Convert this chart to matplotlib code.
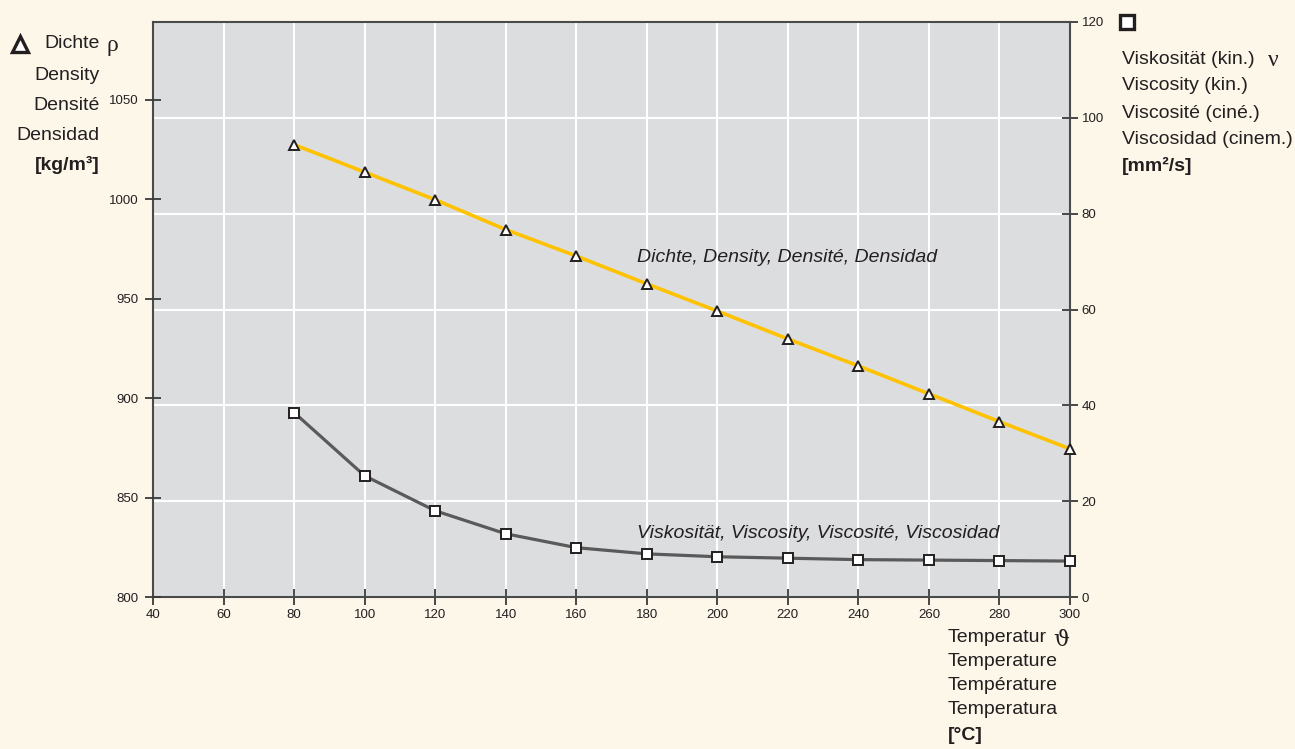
import matplotlib
matplotlib.use("Agg")
import matplotlib.pyplot as plt

plt.rcParams['font.family'] = ['Liberation Sans', 'DejaVu Sans']

# temperature [°C]
temps = [80, 100, 120, 140, 160, 180, 200, 220, 240, 260, 280, 300]
# density [kg/m3]
density = [1027.5, 1013.7, 999.8, 984.8, 971.5, 957.5, 943.8, 929.8, 916.2, 902.2, 888.2, 874.5]
# kinematic viscosity [mm2/s]
viscosity = [38.5, 25.3, 18.0, 13.2, 10.3, 9.0, 8.4, 8.1, 7.8, 7.7, 7.6, 7.5]

x_ticks = list(range(40, 301, 20))
dens_ticks = [800, 850, 900, 950, 1000, 1050]
visc_ticks = [0, 20, 40, 60, 80, 100, 120]

bg = '#fdf7ea'
plot_bg = '#dcdddf'
gold = '#ffc200'
grey = '#5a5a5a'
dark = '#231f20'

W, H = 1295, 749
fig = plt.figure(figsize=(W / 100, H / 100), dpi=100, facecolor=bg)

def px(x, y):
    return x / W, 1 - y / H

l, b = px(153, 597)
r, t = px(1070, 22)
ax = fig.add_axes([l, b, r - l, t - b])
ax.set_facecolor(plot_bg)

# viscosity on the base axes (ticks on the right), grid lives here
ax.plot(temps, viscosity, color=grey, lw=2.3, marker='s', ms=7,
        mfc='white', mec=dark, mew=1.4, clip_on=False, zorder=3)
ax.set_xlim(40, 300)
ax.set_ylim(0, 120)
ax.set_xticks(x_ticks)
ax.set_yticks(visc_ticks)
ax.set_axisbelow(True)
ax.grid(True, color='white', lw=1.5)
for s in ax.spines.values():
    s.set_color('#4a4a4a')
    s.set_linewidth(1.5)

# density on the twin (ticks on the left)
ax2 = ax.twinx()
ax2.plot(temps, density, color=gold, lw=2.6, marker='^', ms=7,
         mfc='white', mec=dark, mew=1.4, clip_on=False, zorder=3)
ax2.set_ylim(800, 1089.2)
ax2.set_yticks(dens_ticks)
ax2.yaxis.tick_left()
ax.yaxis.tick_right()
ax.tick_params(axis='both', direction='inout', length=11, width=1.3,
               color='#3a3a3a', labelsize=9.5, labelcolor=dark, pad=3)
ax2.tick_params(axis='y', direction='inout', length=11, width=1.3,
                color='#3a3a3a', labelsize=9.5, labelcolor=dark, pad=5)
for s in ax2.spines.values():
    s.set_visible(False)

ax2.text(177.2, 968.5, 'Dichte, Density, Densité, Densidad', style='italic',
         fontsize=14, color=dark, va='baseline')
ax.text(177.2, 12.3, 'Viskosität, Viscosity, Viscosité, Viscosidad', style='italic',
        fontsize=14, color=dark, va='baseline')

serif = ['Liberation Serif', 'DejaVu Serif']

# left label block
fs = 14
mx, my = px(20, 44)
fig.add_artist(plt.Line2D([mx], [my], marker='^', ms=11, mfc='white', mec=dark,
                          mew=2.4, transform=fig.transFigure))
for txt, y, w in [('Dichte', 43, 'normal'), ('Density', 75, 'normal'),
                  ('Densité', 105, 'normal'), ('Densidad', 135, 'normal'),
                  ('[kg/m³]', 165, 'bold')]:
    fig.text(*px(100, y), txt, ha='right', va='center', fontsize=fs,
             color=dark, fontweight=w)
fig.text(*px(107, 45), 'ρ', ha='left', va='center', fontsize=fs + 3,
         color=dark, family=serif)

# right label block
mx, my = px(1127, 22)
fig.add_artist(plt.Line2D([mx], [my], marker='s', ms=9.5, mfc='white', mec=dark,
                          mew=2.4, transform=fig.transFigure))
for txt, y, w in [('Viskosität (kin.)', 60, 'normal'), ('Viscosity (kin.)', 86, 'normal'),
                  ('Viscosité (ciné.)', 113, 'normal'), ('Viscosidad (cinem.)', 140, 'normal'),
                  ('[mm²/s]', 166, 'bold')]:
    fig.text(*px(1122, y), txt, ha='left', va='center', fontsize=fs,
             color=dark, fontweight=w)
fig.text(*px(1268, 60), 'ν', ha='left', va='center', fontsize=fs + 3,
         color=dark, family=serif)

# bottom right label block
for txt, y, w in [('Temperatur', 638, 'normal'), ('Temperature', 662, 'normal'),
                  ('Température', 686, 'normal'), ('Temperatura', 710, 'normal'),
                  ('[°C]', 735, 'bold')]:
    fig.text(*px(948, y), txt, ha='left', va='center', fontsize=fs,
             color=dark, fontweight=w)
fig.text(*px(1053, 638), 'ϑ', ha='left', va='center_baseline', fontsize=fs + 2,
         color=dark, family=['DejaVu Serif'])

fig.savefig('out.png', dpi=100, facecolor=bg)
